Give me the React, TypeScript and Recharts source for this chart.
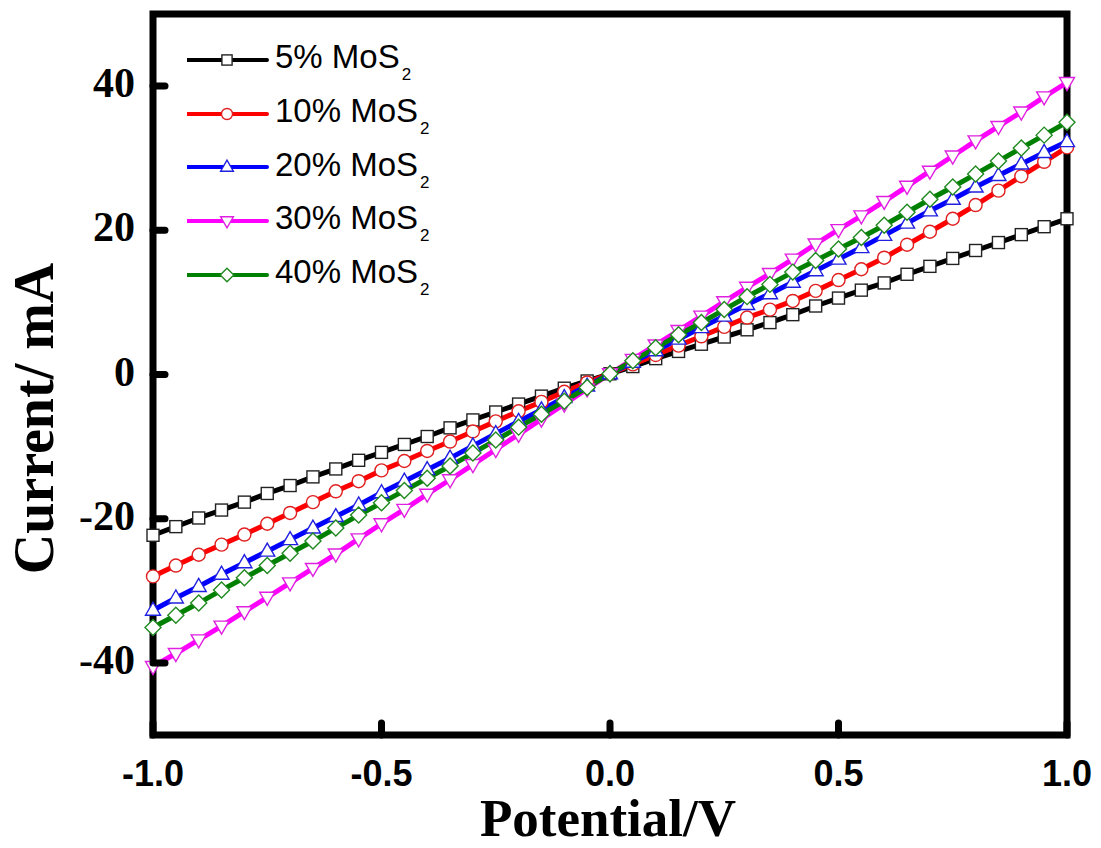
import { LineChart, Line, XAxis, YAxis, ReferenceArea, Legend } from 'recharts';

const potential = [
  -1.0, -0.95, -0.9, -0.85, -0.8, -0.75, -0.7, -0.65, -0.6, -0.55, -0.5, -0.45, -0.4, -0.35, -0.3, -0.25, -0.2, -0.15, -0.1, -0.05,
  0.0, 0.05, 0.1, 0.15, 0.2, 0.25, 0.3, 0.35, 0.4, 0.45, 0.5, 0.55, 0.6, 0.65, 0.7, 0.75, 0.8, 0.85, 0.9, 0.95, 1.0,
];

const mos5 = [
  -22.3, -21.1, -19.9, -18.8, -17.7, -16.5, -15.4, -14.2, -13.1, -11.9, -10.8, -9.7, -8.6, -7.4, -6.3, -5.2, -4.1, -3.0, -1.9, -0.9,
  0.1, 1.1, 2.2, 3.2, 4.2, 5.2, 6.2, 7.2, 8.3, 9.5, 10.6, 11.7, 12.7, 13.9, 15.0, 16.1, 17.2, 18.3, 19.4, 20.5, 21.6,
];
const mos10 = [
  -28.0, -26.5, -25.0, -23.6, -22.2, -20.7, -19.2, -17.7, -16.2, -14.8, -13.3, -12.0, -10.6, -9.3, -7.9, -6.5, -5.1, -3.8, -2.4, -1.1,
  0.1, 1.4, 2.7, 4.0, 5.3, 6.6, 7.9, 9.0, 10.2, 11.6, 13.1, 14.6, 16.2, 18.0, 19.8, 21.6, 23.5, 25.5, 27.5, 29.5, 31.5,
];
const mos20 = [
  -32.7, -31.0, -29.4, -27.7, -26.1, -24.5, -22.9, -21.3, -19.7, -18.1, -16.4, -14.8, -13.2, -11.6, -9.9, -8.2, -6.5, -4.9, -3.2, -1.6,
  0.1, 1.7, 3.3, 4.9, 6.5, 8.1, 9.7, 11.2, 12.8, 14.4, 16.0, 17.6, 19.3, 21.0, 22.7, 24.3, 26.0, 27.6, 29.2, 30.8, 32.3,
];
const mos30 = [
  -40.5, -38.7, -36.8, -34.9, -32.9, -30.9, -28.9, -26.9, -24.9, -22.8, -20.7, -18.7, -16.6, -14.6, -12.5, -10.4, -8.3, -6.2, -4.1, -2.0,
  0.1, 2.1, 4.1, 6.1, 8.1, 10.1, 12.1, 14.0, 16.0, 18.1, 20.1, 22.0, 24.0, 26.1, 28.2, 30.3, 32.4, 34.4, 36.4, 38.5, 40.5,
];
const mos40 = [
  -35.1, -33.4, -31.7, -29.9, -28.2, -26.5, -24.8, -23.1, -21.3, -19.5, -17.8, -16.1, -14.4, -12.7, -10.9, -9.1, -7.3, -5.5, -3.7, -1.8,
  0.1, 1.9, 3.7, 5.5, 7.2, 9.0, 10.8, 12.5, 14.2, 15.8, 17.4, 19.0, 20.7, 22.5, 24.3, 26.0, 27.8, 29.6, 31.4, 33.2, 35.0,
];

const xTicks = [-1.0, -0.5, 0.0, 0.5, 1.0];
const yTicks = [-40, -20, 0, 20, 40];

const series = [
  { key: 'mos5', label: '5% MoS', color: '#000000', edge: '#222222', shape: 'square', values: mos5 },
  { key: 'mos10', label: '10% MoS', color: '#ff0000', edge: '#e02020', shape: 'circle', values: mos10 },
  { key: 'mos20', label: '20% MoS', color: '#0000ff', edge: '#2020e0', shape: 'up', values: mos20 },
  { key: 'mos30', label: '30% MoS', color: '#ff00ff', edge: '#e020e0', shape: 'down', values: mos30 },
  { key: 'mos40', label: '40% MoS', color: '#008000', edge: '#208a20', shape: 'diamond', values: mos40 },
];

const data = potential.map((v, i) => {
  const row: Record<string, number> = { v };
  series.forEach(s => { row[s.key] = s.values[i]; });
  return row;
});

const serif = '"Liberation Serif", "Times New Roman", serif';
const sans = '"Liberation Sans", Arial, sans-serif';

function Marker({ shape, cx, cy, edge, k = 1 }: { shape: string; cx: number; cy: number; edge: string; k?: number }) {
  const sw = 1.4;
  if (shape === 'square') {
    const h = 6 * k;
    return <rect x={cx - h} y={cy - h} width={2 * h} height={2 * h} fill="#fff" stroke={edge} strokeWidth={sw} />;
  }
  if (shape === 'circle') {
    return <circle cx={cx} cy={cy} r={6.5 * k} fill="#fff" stroke={edge} strokeWidth={sw} />;
  }
  if (shape === 'up') {
    const pts = `${cx},${cy - 8 * k} ${cx - 7.5 * k},${cy + 5 * k} ${cx + 7.5 * k},${cy + 5 * k}`;
    return <polygon points={pts} fill="#fff" stroke={edge} strokeWidth={sw} />;
  }
  if (shape === 'down') {
    const pts = `${cx},${cy + 8 * k} ${cx - 7.5 * k},${cy - 5 * k} ${cx + 7.5 * k},${cy - 5 * k}`;
    return <polygon points={pts} fill="#fff" stroke={edge} strokeWidth={sw} />;
  }
  const pts = `${cx},${cy - 8 * k} ${cx + 8 * k},${cy} ${cx},${cy + 8 * k} ${cx - 8 * k},${cy}`;
  return <polygon points={pts} fill="#fff" stroke={edge} strokeWidth={sw} />;
}

function XTick({ x, y, payload }: any) {
  return (
    <g>
      <line x1={x} y1={y} x2={x} y2={y - 12} stroke="#000" strokeWidth={7} strokeLinecap="round" />
      <text x={x} y={y + 51} textAnchor="middle" fontFamily={sans} fontWeight="bold" fontSize={36} fill="#000">
        {Number(payload.value).toFixed(1)}
      </text>
    </g>
  );
}

function YTick({ x, y, payload }: any) {
  return (
    <g>
      <line x1={x} y1={y} x2={x + 12} y2={y} stroke="#000" strokeWidth={7} strokeLinecap="round" />
      <text x={x - 18} y={y + 11} textAnchor="end" fontFamily={serif} fontWeight="bold" fontSize={42} fill="#000">
        {payload.value}
      </text>
    </g>
  );
}

function LegendBox() {
  return (
    <div style={{ fontFamily: sans, color: '#000' }}>
      {series.map(s => (
        <div key={s.key} style={{ display: 'flex', alignItems: 'center', height: 53.7 }}>
          <svg width={88} height={30} style={{ display: 'block' }}>
            <line x1={0} y1={15} x2={80} y2={15} stroke={s.color} strokeWidth={4} strokeLinecap="round" />
            <Marker shape={s.shape} cx={40} cy={15} edge={s.edge} k={0.85} />
          </svg>
          <span style={{ fontSize: 33, lineHeight: '33px', whiteSpace: 'nowrap' }}>
            {s.label}
            <sub style={{ fontSize: 17, verticalAlign: 'baseline', position: 'relative', top: 12, marginLeft: 2 }}>2</sub>
          </span>
        </div>
      ))}
    </div>
  );
}

export default function App() {
  return (
    <div style={{ width: 1093, height: 832, background: '#fff' }}>
      <LineChart
        width={1093}
        height={832}
        data={data}
        margin={{ top: 6, right: 34, left: 0, bottom: 0 }}
        style={{ overflow: 'visible' }}
      >
        <XAxis
          dataKey="v"
          type="number"
          domain={[-1, 1]}
          ticks={xTicks}
          axisLine={false}
          tickLine={false}
          tickSize={0}
          tickMargin={0}
          height={105}
          tick={<XTick />}
          interval={0}
          label={{
            content: ({ viewBox }: any) => (
              <text
                x={viewBox.x + viewBox.width / 2 - 2}
                y={viewBox.y + 101}
                textAnchor="middle"
                fontFamily={serif}
                fontWeight="bold"
                fontSize={53}
                fill="#000"
              >
                Potential/V
              </text>
            ),
          }}
        />
        <YAxis
          type="number"
          domain={[-50, 50]}
          ticks={yTicks}
          axisLine={false}
          tickLine={false}
          tickSize={0}
          tickMargin={0}
          width={145}
          tick={<YTick />}
          interval={0}
          label={{
            content: ({ viewBox }: any) => {
              const cx = viewBox.x + 45;
              const cy = viewBox.y + viewBox.height / 2 + 44;
              return (
                <text
                  x={cx}
                  y={cy}
                  transform={`rotate(-90 ${cx} ${cy})`}
                  textAnchor="middle"
                  fontFamily={serif}
                  fontWeight="bold"
                  fontSize={56}
                  fill="#000"
                >
                  Current/ mA
                </text>
              );
            },
          }}
        />
        {series.map(s => (
          <Line
            key={s.key}
            dataKey={s.key}
            name={s.label}
            stroke={s.color}
            strokeWidth={5}
            isAnimationActive={false}
            dot={(p: any) => <Marker key={`${s.key}-${p.index}`} shape={s.shape} cx={p.cx} cy={p.cy} edge={s.edge} />}
            activeDot={false}
          />
        ))}
        <ReferenceArea x1={-1} x2={1} y1={-50} y2={50} fill="none" fillOpacity={0} stroke="#000" strokeWidth={7} ifOverflow="visible" />
        <Legend
          layout="vertical"
          align="center"
          verticalAlign="middle"
          wrapperStyle={{ left: 179, top: 25, width: 320, height: 270 }}
          content={() => <LegendBox />}
        />
      </LineChart>
    </div>
  );
}
